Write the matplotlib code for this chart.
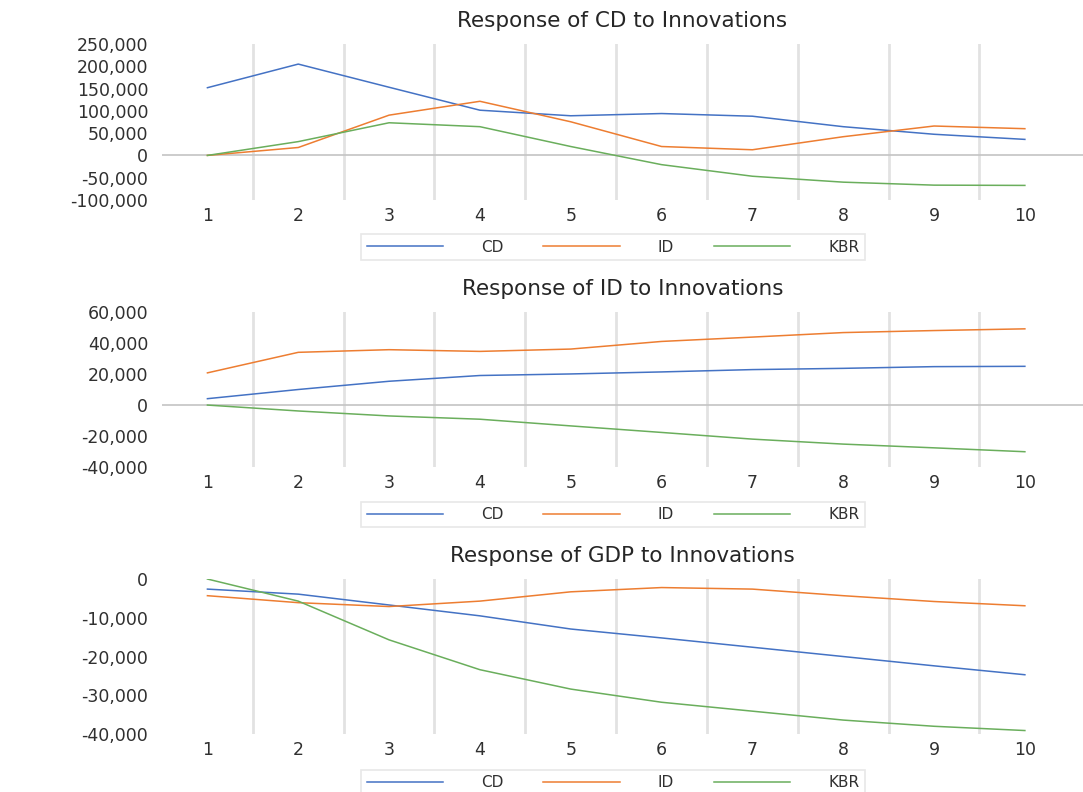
import matplotlib
matplotlib.use('Agg')
import matplotlib.pyplot as plt
from matplotlib.ticker import FuncFormatter, MultipleLocator

plt.rcParams['font.family'] = ['DejaVu Sans']

# 数据:三个脉冲响应面板
periods = [1, 2, 3, 4, 5, 6, 7, 8, 9, 10]
series_names = ['CD', 'ID', 'KBR']

cd_resp_cd = [152000, 205000, 153000, 101500, 89000, 94000, 88000, 64500, 47500, 36000]
cd_resp_id = [0, 17800, 90400, 121500, 75500, 20000, 12700, 42000, 66000, 60000]
cd_resp_kbr = [0, 31000, 73300, 64500, 20000, -20700, -46700, -60000, -66700, -67300]

id_resp_cd = [4100, 10000, 15300, 19000, 20000, 21300, 22800, 23600, 24700, 24900]
id_resp_id = [20700, 33900, 35600, 34500, 36000, 40900, 43700, 46600, 47900, 49000]
id_resp_kbr = [0, -3800, -7000, -9100, -13400, -17600, -21900, -25100, -27500, -30000]

gdp_resp_cd = [-2600, -3900, -6700, -9500, -12900, -15200, -17600, -20000, -22400, -24700]
gdp_resp_id = [-4300, -6100, -7100, -5700, -3300, -2200, -2600, -4300, -5800, -6900]
gdp_resp_kbr = [0, -5700, -15700, -23400, -28400, -31800, -34100, -36400, -38000, -39100]

titles = ['Response of CD to Innovations',
          'Response of ID to Innovations',
          'Response of GDP to Innovations']
panels = [
    (cd_resp_cd, cd_resp_id, cd_resp_kbr),
    (id_resp_cd, id_resp_id, id_resp_kbr),
    (gdp_resp_cd, gdp_resp_id, gdp_resp_kbr),
]
y_limits = [(-100000, 250000, 50000), (-40000, 60000, 20000), (-40000, 0, 10000)]
show_zero = [True, True, False]

COLORS = ['#4472C4', '#ED7D31', '#6AAE5C']
GRID = '#E2E2E2'
TEXT = '#303030'

fig = plt.figure(figsize=(10.83, 7.92), dpi=100, facecolor='white')

# [left, bottom, width, height]
ax_pos = [
    [0.1496, 0.7475, 0.8504, 0.1969],
    [0.1496, 0.4100, 0.8504, 0.1964],
    [0.1496, 0.0732, 0.8504, 0.1957],
]
legend_y = [0.688, 0.3504, 0.012]

for k in range(3):
    ax = fig.add_axes(ax_pos[k])
    for vals, name, c in zip(panels[k], series_names, COLORS):
        ax.plot(periods, vals, color=c, lw=1.1, label=name)

    lo, hi, step = y_limits[k]
    ax.set_ylim(lo, hi)
    ax.yaxis.set_major_locator(MultipleLocator(step))
    ax.yaxis.set_major_formatter(FuncFormatter(lambda v, p: f'{v:,.0f}'))
    ax.set_xlim(0.5, 10.64)
    ax.set_xticks(periods)
    ax.set_xticks([p + 0.5 for p in periods[:-1]], minor=True)
    ax.grid(True, which='minor', axis='x', color=GRID, lw=2.0)
    ax.set_axisbelow(True)
    ax.tick_params(which='both', length=0)
    ax.tick_params(axis='y', labelsize=12.5, colors=TEXT, pad=10)
    ax.tick_params(axis='x', labelsize=12.5, colors=TEXT, pad=5)
    for s in ax.spines.values():
        s.set_visible(False)
    if show_zero[k]:
        ax.axhline(0, color='#C4C4C4', lw=1.2, zorder=1)

    ax.set_title(titles[k], fontsize=15.5, color='#262626', pad=12)

    leg = ax.legend(loc='center', bbox_to_anchor=(0.566, legend_y[k]),
                    bbox_transform=fig.transFigure, ncol=3, fontsize=11,
                    handlelength=5, handletextpad=2.5, columnspacing=2.6,
                    frameon=True, fancybox=False, borderpad=0.35)
    leg.get_frame().set_edgecolor(GRID)
    leg.get_frame().set_linewidth(1.2)
    for t in leg.get_texts():
        t.set_color(TEXT)

fig.savefig('out.png', dpi=100, facecolor='white')
